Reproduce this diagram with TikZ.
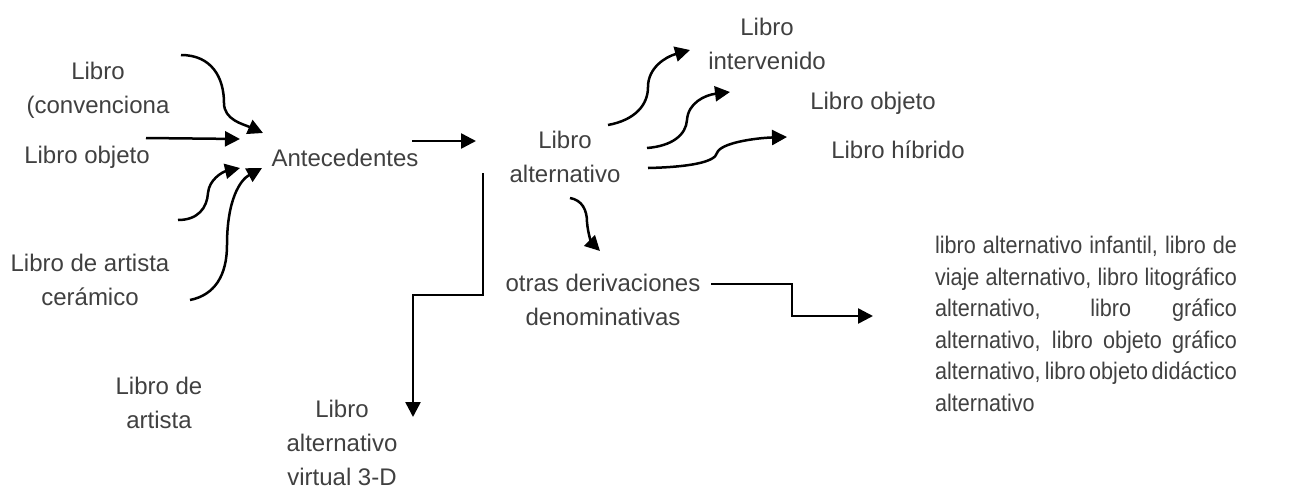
\documentclass[tikz,border=0pt]{standalone}
\usepackage{fontspec}
\setmainfont{Liberation Sans}
\newfontfamily\parafont[FakeStretch=0.9]{Liberation Sans}
\usetikzlibrary{arrows.meta}
\definecolor{txtgray}{RGB}{64,64,64}
\newcommand\parastyle{\parafont\fontsize{12}{15.8}\selectfont
  \spaceskip=0.25em plus 3em minus 0.12em\relax}

\begin{document}
\begin{tikzpicture}[x=0.5pt,y=-0.5pt,
    lbl/.style={inner sep=0pt,align=center,text=txtgray,font=\fontsize{12}{17}\selectfont},
    arr/.style={-{Triangle[length=7.5pt,width=7.5pt]},line width=1.25pt}]
  \useasboundingbox (0,0) rectangle (1294,488);
  % textos
  \node[lbl] (conv) at (98,90) {Libro\\(convenciona};
  \node[lbl] (lobj) at (87,157) {Libro objeto};
  \node[lbl] (ceram) at (90,280) {Libro de artista\\cerámico};
  \node[lbl] (artista) at (159,403) {Libro de\\artista};
  \node[lbl] (ante) at (345,158) {Antecedentes};
  \node[lbl] (lalt) at (565,157) {Libro\\alternativo};
  \node[lbl] (interv) at (767,44) {Libro\\intervenido};
  \node[lbl] (lobjb) at (873,103) {Libro objeto};
  \node[lbl] (hibr) at (898,150) {Libro híbrido};
  \node[lbl] (otras) at (603,300) {otras derivaciones\\denominativas};
  \node[lbl] (virt) at (342,443) {Libro\\alternativo\\virtual 3-D};
  \node[lbl,align=left,font=\parastyle] (deriv) at (1086,324)
    {\makebox[151pt][s]{libro alternativo infantil, libro de}\\
     \makebox[151pt][s]{viaje alternativo, libro litográfico}\\
     \makebox[151pt][s]{alternativo, libro gráfico}\\
     \makebox[151pt][s]{alternativo, libro objeto gráfico}\\
     \makebox[151pt][s]{alternativo, libro objeto didáctico}\\
     alternativo};
  % extremos de las flechas
  \coordinate (conv-a) at (181,55);   \coordinate (ante-a) at (263,133);
  \coordinate (lobj-a) at (146,138);  \coordinate (ante-b) at (240,139);
  \coordinate (ceram-a) at (178,220); \coordinate (ante-c) at (240,168);
  \coordinate (ceram-b) at (190,300); \coordinate (ante-d) at (262,168);
  \coordinate (ante-e) at (412,141);  \coordinate (lalt-a) at (476,141);
  \coordinate (lalt-b) at (608,125);  \coordinate (interv-a) at (690,50);
  \coordinate (lalt-c) at (647,148);  \coordinate (lobjb-a) at (730,92);
  \coordinate (lalt-d) at (648,168);  \coordinate (hibr-a) at (787,137);
  \coordinate (lalt-e) at (570,198);  \coordinate (otras-a) at (600,251);
  \coordinate (lalt-f) at (483,173);  \coordinate (virt-a) at (413,417);
  \coordinate (otras-b) at (711,284); \coordinate (deriv-a) at (873,316);
  % antecedentes
  \draw[arr] (conv-a) .. controls (212,55) and (224,78) .. (224,103)
    .. controls (224,120) and (243,124) .. (ante-a);
  \draw[arr] (lobj-a) -- (ante-b);
  \draw[arr] (ceram-a) .. controls (198,220) and (207,208) .. (208,193)
    .. controls (209,180) and (222,172) .. (ante-c);
  \draw[arr] (ceram-b) .. controls (215,295) and (227,275) .. (227,245)
    .. controls (227,200) and (240,180) .. (ante-d);
  \draw[arr] (ante-e) -- (lalt-a);
  % derivaciones
  \draw[arr] (lalt-b) .. controls (635,120) and (648,105) .. (648,87)
    .. controls (648,68) and (665,57) .. (interv-a);
  \draw[arr] (lalt-c) .. controls (672,146) and (686,135) .. (687,120)
    .. controls (688,103) and (705,95) .. (lobjb-a);
  \draw[arr] (lalt-d) .. controls (690,167) and (715,162) .. (717,153)
    .. controls (720,143) and (755,138) .. (hibr-a);
  \draw[arr] (lalt-e) .. controls (582,200) and (587,210) .. (587,222)
    .. controls (588,235) and (592,243) .. (otras-a);
  \draw[arr] (lalt-f) |- (413,295) -- (virt-a);
  \draw[arr] (otras-b) -| (792,316) -- (deriv-a);
\end{tikzpicture}
\end{document}
